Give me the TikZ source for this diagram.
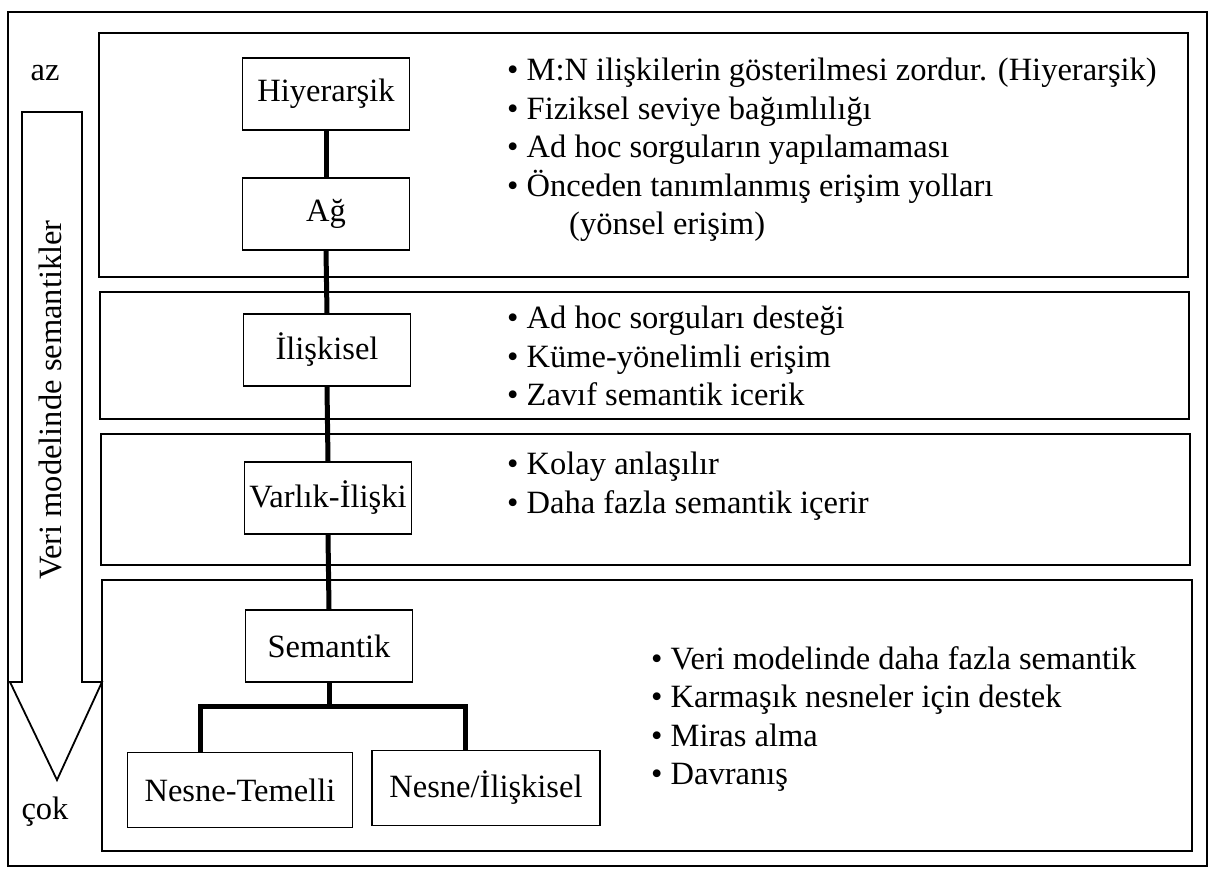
\documentclass[tikz,border=0pt]{standalone}
\usepackage{fontspec}
\setmainfont{Liberation Serif}
\newcommand\pbul{\textbullet\ }
\begin{document}
\begin{tikzpicture}[x=1pt,y=1pt,
  every node/.style={font=\fontsize{32.5}{38.5}\selectfont, inner sep=0pt},
  frame/.style={draw, line width=1.8pt},
  model/.style={draw, line width=1.8pt, minimum width=167pt, minimum height=72pt},
  leaf/.style={draw, line width=1.8pt, minimum height=75pt},
  link/.style={line width=5pt, line join=miter},
  notes/.style={anchor=west, align=left}]
\useasboundingbox (0,0) rectangle (1210,-878);

% outer frame
\draw[frame] (8,-12) rectangle (1207,-866);

% level panels
\draw[frame] (99,-33) rectangle (1188,-277);
\draw[frame] (100,-292) rectangle (1189,-419);
\draw[frame] (101,-434) rectangle (1190,-565);
\draw[frame] (102,-580) rectangle (1192,-851);

% semantics arrow on the left
\draw[frame, line join=miter] (22,-112) -- (82,-112) -- (82,-682) -- (102,-682)
  -- (57,-780) -- (10,-682) -- (22,-682) -- cycle;
\node (az) at (45,-73) {az};
\node (cok) at (45,-812) {çok};
\node[rotate=90] (axis) at (50,-400) {Veri modelinde semantikler};

% data models
\node[model] (hiy) at (326,-94) {Hiyerarşik};
\node[model] (ag) at (326,-214) {Ağ};
\node[model] (ili) at (327,-350) {İlişkisel};
\node[model] (var) at (328,-498) {Varlık-İlişki};
\node[model] (sem) at (329,-646) {Semantik};
\node[leaf, minimum width=225pt] (nt) at (240,-790) {Nesne-Temelli};
\node[leaf, minimum width=228pt] (ni) at (486,-788) {Nesne/İlişkisel};

% evolution line
\draw[link] (hiy.south) -- (ag.north);
\draw[link] (ag.south) -- (ili.north);
\draw[link] (ili.south) -- (var.north);
\draw[link] (var.south) -- (sem.north);
\coordinate (busL) at (200,-706);
\coordinate (busR) at (465,-706);
\draw[link] (sem.south) -- (sem.south |- busL);
\draw[link] (busL |- nt.north) -- (busL) -- (busR) -- (busR |- ni.north);

% properties of each level
\node[notes] (n1) at (507,-150) {\pbul M:N ilişkilerin gösterilmesi zordur. (Hiyerarşik)\\
  \pbul Fiziksel seviye bağımlılığı\\
  \pbul Ad hoc sorguların yapılamaması\\
  \pbul Önceden tanımlanmış erişim yolları\\
  \hspace*{62pt}(yönsel erişim)};
\node[notes] (n2) at (507,-356) {\pbul Ad hoc sorguları desteği\\
  \pbul Küme-yönelimli erişim\\
  \pbul Zavıf semantik icerik};
\node[notes] (n3) at (507,-486) {\pbul Kolay anlaşılır\\
  \pbul Daha fazla semantik içerir};
\node[notes] (n4) at (651,-719) {\pbul Veri modelinde daha fazla semantik\\
  \pbul Karmaşık nesneler için destek\\
  \pbul Miras alma\\
  \pbul Davranış};
\end{tikzpicture}
\end{document}
